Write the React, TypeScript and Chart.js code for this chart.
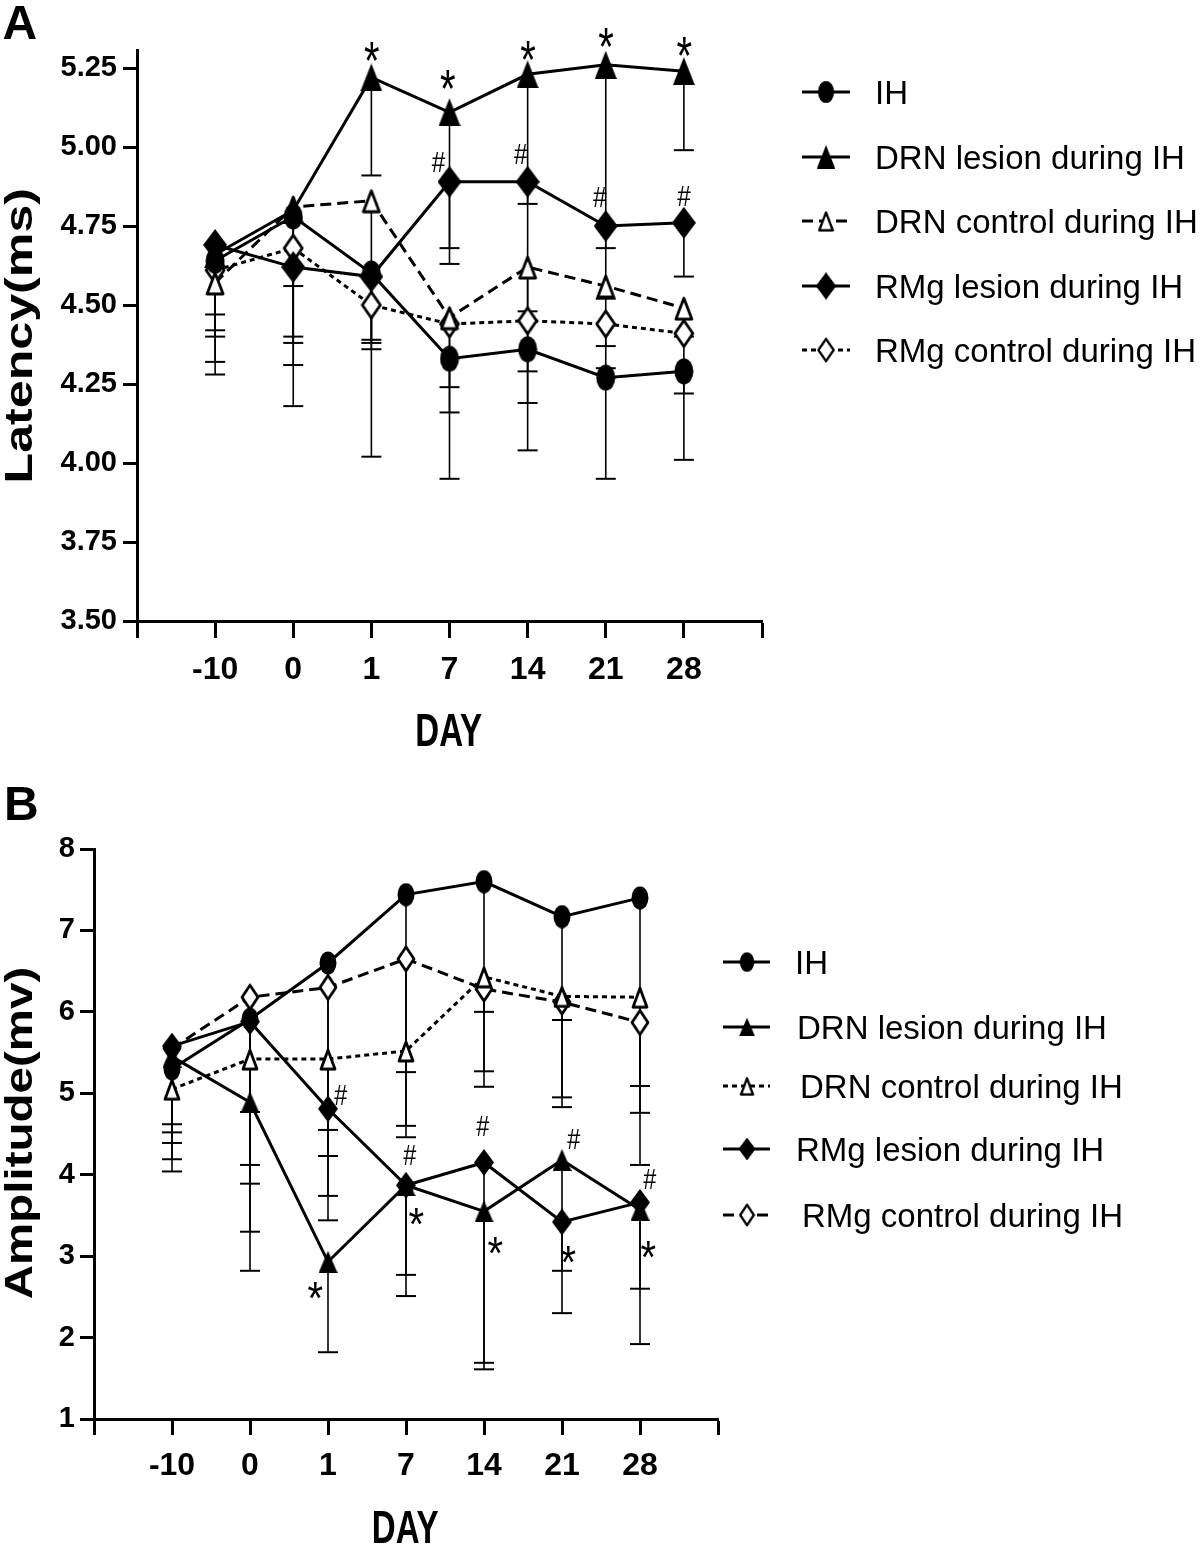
import React, { useEffect, useRef } from 'react';
import { Chart, registerables } from 'chart.js';

Chart.register(...registerables);

// ---------- shared categories ----------
const days = ['-10', '0', '1', '7', '14', '21', '28'];
const seriesLabels = [
  'IH',
  'DRN lesion during IH',
  'DRN control during IH',
  'RMg lesion during IH',
  'RMg control during IH',
];

// ---------- Panel A : Latency (ms) ----------
const latencyIH = [4.64, 4.78, 4.60, 4.33, 4.36, 4.27, 4.29];
const latencyDRNLesion = [4.66, 4.80, 5.22, 5.11, 5.23, 5.26, 5.24];
const latencyDRNControl = [4.57, 4.81, 4.83, 4.46, 4.62, 4.56, 4.49];
const latencyRMgLesion = [4.69, 4.62, 4.59, 4.89, 4.89, 4.75, 4.76];
const latencyRMgControl = [4.61, 4.68, 4.50, 4.44, 4.45, 4.44, 4.41];
// lower ends of the (one-sided) error bars
const latencyIHLow = [4.28, 4.18, 4.02, 3.95, 4.04, 3.95, 4.01];
const latencyDRNLesionLow = [4.40, 4.38, 4.91, 4.63, 4.82, 4.52, 4.99];
const latencyDRNControlLow = [4.32, 4.31, 4.36, 4.24, 4.29, 4.37, 4.40];
const latencyRMgLesionLow = [4.47, 4.56, 4.38, 4.68, 4.48, 4.68, 4.59];
const latencyRMgControlLow = [4.42, 4.40, 4.39, 4.16, 4.19, 4.30, 4.22];
const latencyTicks = [3.5, 3.75, 4.0, 4.25, 4.5, 4.75, 5.0, 5.25];
// significance marks: [series index, day index]
const latencyStars = [[1, 2], [1, 3], [1, 4], [1, 5], [1, 6]];
const latencyHashes = [[3, 3], [3, 4], [3, 5], [3, 6]];

// ---------- Panel B : Amplitude (mv) ----------
const amplitudeIH = [5.30, 5.91, 6.60, 7.44, 7.60, 7.17, 7.40];
const amplitudeDRNLesion = [5.45, 4.89, 2.93, 3.87, 3.55, 4.18, 3.57];
const amplitudeDRNControl = [5.05, 5.42, 5.42, 5.52, 6.43, 6.19, 6.18];
const amplitudeRMgLesion = [5.58, 5.88, 4.81, 3.87, 4.15, 3.42, 3.66];
const amplitudeRMgControl = [5.55, 6.18, 6.30, 6.65, 6.28, 6.12, 5.87];
const amplitudeIHLow = [4.39, 3.89, 4.23, 4.46, 5.27, 4.83, 4.12];
const amplitudeDRNLesionLow = [4.19, 2.82, 1.82, 2.51, 1.69, 2.30, 1.92];
const amplitudeDRNControlLow = [4.04, 4.77, 4.55, 5.26, 5.08, 4.95, 5.09];
const amplitudeRMgLesionLow = [4.62, 3.30, 3.44, 2.77, 1.61, 2.82, 2.60];
const amplitudeRMgControlLow = [4.52, 4.12, 3.74, 4.60, 6.00, 5.90, 4.76];
const amplitudeTicks = [1, 2, 3, 4, 5, 6, 7, 8];
const amplitudeStars = [[1, 2], [1, 3], [1, 4], [3, 5], [1, 6]];
const amplitudeHashes = [[3, 2], [3, 3], [3, 4], [1, 5], [3, 6]];

// ---------- styling ----------
type Shape = 'circle' | 'triangle' | 'openTriangle' | 'diamond' | 'openDiamond';
const shapes: Shape[] = ['circle', 'triangle', 'openTriangle', 'diamond', 'openDiamond'];
const SANS = '"Liberation Sans", Arial, Helvetica, sans-serif';

function makeMarker(shape: Shape, w: number, h: number): HTMLCanvasElement {
  const c = document.createElement('canvas');
  c.width = w;
  c.height = h;
  const ctx = c.getContext('2d')!;
  const open = shape === 'openTriangle' || shape === 'openDiamond';
  const i = open ? 2 : 0;
  ctx.beginPath();
  if (shape === 'circle') {
    ctx.ellipse(w / 2, h / 2, w / 2 - 0.5, h / 2 - 0.5, 0, 0, Math.PI * 2);
  } else if (shape === 'triangle' || shape === 'openTriangle') {
    ctx.moveTo(w / 2, i + (open ? 1 : 0));
    ctx.lineTo(w - i, h - i);
    ctx.lineTo(i, h - i);
    ctx.closePath();
  } else {
    ctx.moveTo(w / 2, i);
    ctx.lineTo(w - i, h / 2);
    ctx.lineTo(w / 2, h - i);
    ctx.lineTo(i, h / 2);
    ctx.closePath();
  }
  if (open) {
    ctx.fillStyle = '#fff';
    ctx.fill();
    ctx.lineWidth = 2.8;
    ctx.strokeStyle = '#000';
    ctx.lineJoin = 'round';
    ctx.stroke();
  } else {
    ctx.fillStyle = '#000';
    ctx.fill();
  }
  return c;
}

function drawInk(
  ctx: CanvasRenderingContext2D,
  text: string,
  x: number,
  y: number,
  font: string,
  sx = 1,
  sy = 1,
  rotate = false
) {
  ctx.save();
  ctx.translate(x, y);
  if (rotate) ctx.rotate(-Math.PI / 2);
  ctx.scale(sx, sy);
  ctx.font = font;
  ctx.fillStyle = '#000';
  ctx.textAlign = 'left';
  ctx.textBaseline = 'alphabetic';
  const m = ctx.measureText(text);
  const L = m.actualBoundingBoxLeft;
  const R = m.actualBoundingBoxRight;
  const A = m.actualBoundingBoxAscent;
  const D = m.actualBoundingBoxDescent;
  ctx.fillText(text, (L - R) / 2, (A - D) / 2);
  ctx.restore();
}

interface PanelSpec {
  height: number;
  area: { left: number; right: number; top: number; bottom: number };
  series: number[][];
  lows: number[][];
  yMin: number;
  yMax: number;
  yTicks: number[];
  yFmt: (v: number) => string;
  sizes: number[][];
  dashes: number[][];
  stars: number[][];
  hashes: number[][];
  starOffsets: number[][];
  hashOffsets: number[][];
  starFont: string;
  starScaleY: number;
  hashFont: string;
  letter: string;
  letterPos: number[];
  yTitle: string;
  yTitleX: number;
  yTitleStretch: number;
  xTitleY: number;
  xTickLen: number;
  xTickPad: number;
  yTickPad: number;
  legendRows: number[];
  legendLine: number[];
  legendMarkerX: number;
  legendTextX: number[];
}

const panelA: PanelSpec = {
  height: 773,
  area: { left: 137, right: 762, top: 50, bottom: 621 },
  series: [latencyIH, latencyDRNLesion, latencyDRNControl, latencyRMgLesion, latencyRMgControl],
  lows: [latencyIHLow, latencyDRNLesionLow, latencyDRNControlLow, latencyRMgLesionLow, latencyRMgControlLow],
  yMin: 3.5,
  yMax: 5.307,
  yTicks: latencyTicks,
  yFmt: (v) => v.toFixed(2),
  sizes: [[20, 27], [22, 28], [20, 26], [24, 32], [22, 30]],
  dashes: [[], [], [11, 6], [], [5, 4]],
  stars: latencyStars,
  hashes: latencyHashes,
  starOffsets: [[0, -26], [-2, -33], [0, -24], [0, -28], [0, -25]],
  hashOffsets: [[-11, -20], [-7, -28], [-6, -29], [0, -27]],
  starFont: '40px ' + SANS,
  starScaleY: 1.35,
  hashFont: '27px ' + SANS,
  letter: 'A',
  letterPos: [20, 22],
  yTitle: 'Latency(ms)',
  yTitleX: 22,
  yTitleStretch: 1.32,
  xTitleY: 730,
  xTickLen: 17,
  xTickPad: 13,
  yTickPad: 6,
  legendRows: [92, 157, 221, 286, 350],
  legendLine: [802, 850],
  legendMarkerX: 826,
  legendTextX: [875, 875, 875, 875, 875],
};

const panelB: PanelSpec = {
  height: 773,
  area: { left: 94, right: 718, top: 76, bottom: 646 },
  series: [amplitudeIH, amplitudeDRNLesion, amplitudeDRNControl, amplitudeRMgLesion, amplitudeRMgControl],
  lows: [amplitudeIHLow, amplitudeDRNLesionLow, amplitudeDRNControlLow, amplitudeRMgLesionLow, amplitudeRMgControlLow],
  yMin: 1,
  yMax: 8,
  yTicks: amplitudeTicks,
  yFmt: (v) => String(v),
  sizes: [[18, 24], [19, 22], [18, 24], [20, 27], [20, 28]],
  dashes: [[], [], [5, 4], [], [11, 6]],
  stars: amplitudeStars,
  hashes: amplitudeHashes,
  starOffsets: [[-13, 29], [10, 31], [11, 34], [6, 32], [8, 40]],
  hashOffsets: [[13, -14], [4, -30], [-1, -36], [12, -21], [10, -23]],
  starFont: '40px ' + SANS,
  starScaleY: 1.15,
  hashFont: '26px ' + SANS,
  letter: 'B',
  letterPos: [22, 30],
  yTitle: 'Amplitude(mv)',
  yTitleX: 22,
  yTitleStretch: 1.25,
  xTitleY: 754,
  xTickLen: 16,
  xTickPad: 12,
  yTickPad: 5,
  legendRows: [189, 254, 313, 376, 442],
  legendLine: [723, 770],
  legendMarkerX: 747,
  legendTextX: [795, 797, 800, 796, 802],
};

function buildConfig(spec: PanelSpec): any {
  const markers = shapes.map((s, k) => makeMarker(s, spec.sizes[k][0], spec.sizes[k][1]));
  const datasets = spec.series.map((vals, k) => ({
    label: seriesLabels[k],
    data: vals.map((v, i) => ({ x: i + 1, y: v })),
    borderColor: '#000',
    backgroundColor: '#000',
    borderWidth: 3,
    borderDash: spec.dashes[k],
    pointStyle: markers[k],
    pointRadius: 12,
    pointHoverRadius: 12,
    pointBorderWidth: 0,
    tension: 0,
    fill: false,
    clip: false,
  }));

  const xTickValues = [0, ...days.map((_, i) => i + 1), days.length + 1];

  const errorBars = {
    id: 'errorBars',
    beforeDatasetsDraw(chart: any) {
      const ctx = chart.ctx as CanvasRenderingContext2D;
      const xs = chart.scales.x;
      const ys = chart.scales.y;
      ctx.save();
      ctx.strokeStyle = '#000';
      spec.lows.forEach((lows, k) => {
        lows.forEach((lo, i) => {
          const x = xs.getPixelForValue(i + 1);
          const y0 = ys.getPixelForValue(spec.series[k][i]);
          const y1 = ys.getPixelForValue(lo);
          ctx.lineWidth = 1.6;
          ctx.beginPath();
          ctx.moveTo(x, y0);
          ctx.lineTo(x, y1);
          ctx.stroke();
          ctx.lineWidth = 2;
          ctx.beginPath();
          ctx.moveTo(x - 10, y1);
          ctx.lineTo(x + 10, y1);
          ctx.stroke();
        });
      });
      ctx.restore();
    },
  };

  const marks = {
    id: 'marks',
    afterDatasetsDraw(chart: any) {
      const ctx = chart.ctx as CanvasRenderingContext2D;
      const xs = chart.scales.x;
      const ys = chart.scales.y;
      spec.stars.forEach(([k, i], n) => {
        const x = xs.getPixelForValue(i + 1) + spec.starOffsets[n][0];
        const y = ys.getPixelForValue(spec.series[k][i]) + spec.starOffsets[n][1];
        drawInk(ctx, '*', x, y, spec.starFont, 1, spec.starScaleY);
      });
      spec.hashes.forEach(([k, i], n) => {
        const x = xs.getPixelForValue(i + 1) + spec.hashOffsets[n][0];
        const y = ys.getPixelForValue(spec.series[k][i]) + spec.hashOffsets[n][1];
        drawInk(ctx, '#', x, y, spec.hashFont, 0.9, 1.1);
      });
    },
  };

  const decor = {
    id: 'decor',
    afterDraw(chart: any) {
      const ctx = chart.ctx as CanvasRenderingContext2D;
      const area = chart.chartArea;
      // panel letter
      drawInk(ctx, spec.letter, spec.letterPos[0], spec.letterPos[1], 'bold 48px ' + SANS);
      // axis titles
      drawInk(
        ctx,
        spec.yTitle,
        spec.yTitleX,
        (area.top + area.bottom) / 2,
        'bold 38px ' + SANS,
        spec.yTitleStretch,
        1,
        true
      );
      drawInk(ctx, 'DAY', (area.left + area.right) / 2, spec.xTitleY, 'bold 46px ' + SANS, 0.72, 1);
      // legend
      spec.legendRows.forEach((y, k) => {
        ctx.save();
        ctx.strokeStyle = '#000';
        ctx.lineWidth = 3;
        ctx.setLineDash(spec.dashes[k]);
        ctx.beginPath();
        ctx.moveTo(spec.legendLine[0], y);
        ctx.lineTo(spec.legendLine[1], y);
        ctx.stroke();
        ctx.restore();
        const m = markers[k];
        const w = m.width * 0.85;
        const h = m.height * 0.85;
        ctx.drawImage(m, spec.legendMarkerX - w / 2, y - h / 2, w, h);
        ctx.save();
        ctx.font = '33px ' + SANS;
        ctx.fillStyle = '#000';
        ctx.textAlign = 'left';
        ctx.textBaseline = 'alphabetic';
        ctx.fillText(seriesLabels[k], spec.legendTextX[k], y + 12);
        ctx.restore();
      });
    },
  };

  return {
    type: 'line',
    data: { datasets },
    options: {
      responsive: false,
      animation: false,
      events: [],
      layout: {
        padding: { left: 0, top: spec.area.top, right: 1200 - spec.area.right, bottom: 0 },
      },
      plugins: {
        legend: { display: false },
        tooltip: { enabled: false },
        title: { display: false },
      },
      scales: {
        x: {
          type: 'linear',
          min: 0,
          max: days.length + 1,
          afterBuildTicks: (s: any) => {
            s.ticks = xTickValues.map((v) => ({ value: v }));
          },
          afterFit: (s: any) => {
            s.height = spec.height - spec.area.bottom;
          },
          ticks: {
            callback: (v: any) => days[Number(v) - 1] ?? '',
            font: { family: SANS, size: 32, weight: 'bold' },
            color: '#000',
            padding: spec.xTickPad,
            autoSkip: false,
            maxRotation: 0,
            minRotation: 0,
          },
          grid: {
            drawOnChartArea: false,
            drawTicks: true,
            tickLength: spec.xTickLen,
            tickWidth: 3,
            tickColor: '#000',
            color: '#000',
          },
          border: { display: true, color: '#000', width: 3 },
          title: { display: false },
        },
        y: {
          type: 'linear',
          min: spec.yMin,
          max: spec.yMax,
          afterBuildTicks: (s: any) => {
            s.ticks = spec.yTicks.map((v) => ({ value: v }));
          },
          afterFit: (s: any) => {
            s.width = spec.area.left;
          },
          ticks: {
            callback: (v: any) => spec.yFmt(Number(v)),
            font: { family: SANS, size: 29, weight: 'bold' },
            color: '#000',
            padding: spec.yTickPad,
          },
          grid: {
            drawOnChartArea: false,
            drawTicks: true,
            tickLength: 14,
            tickWidth: 3,
            tickColor: '#000',
            color: '#000',
          },
          border: { display: true, color: '#000', width: 3 },
          title: { display: false },
        },
      },
    },
    plugins: [errorBars, marks, decor],
  };
}

function Panel({ spec }: { spec: PanelSpec }) {
  const ref = useRef<HTMLCanvasElement>(null);
  useEffect(() => {
    const chart = new Chart(ref.current!, buildConfig(spec));
    return () => chart.destroy();
  }, [spec]);
  return (
    <canvas
      ref={ref}
      width={1200}
      height={spec.height}
      style={{ display: 'block', width: 1200, height: spec.height }}
    />
  );
}

export default function App() {
  return (
    <div
      style={{
        position: 'absolute',
        left: 0,
        top: 0,
        width: 1200,
        height: 1546,
        background: '#fff',
        overflow: 'hidden',
      }}
    >
      <Panel spec={panelA} />
      <Panel spec={panelB} />
    </div>
  );
}
